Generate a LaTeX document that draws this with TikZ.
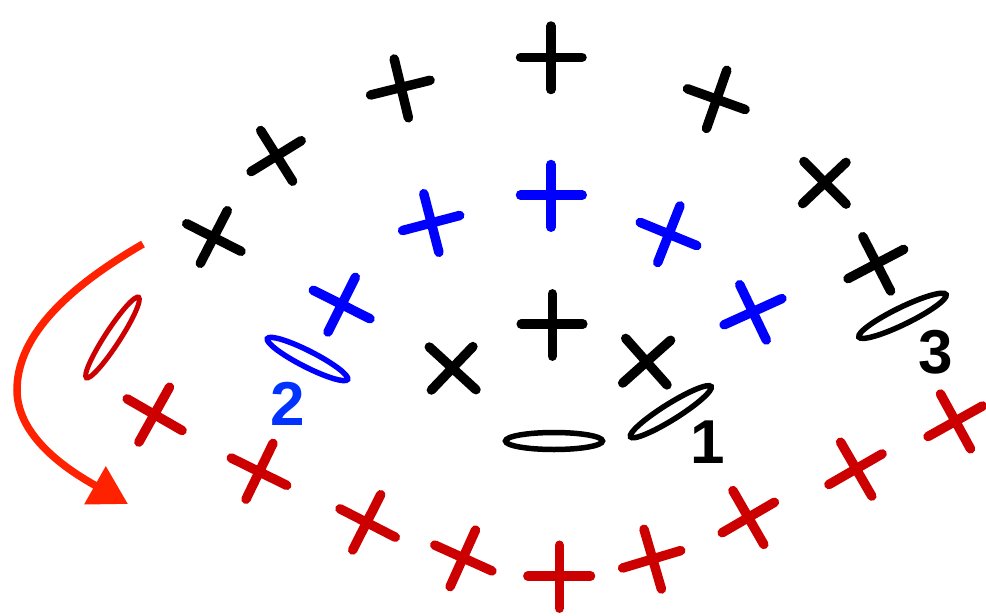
\documentclass[tikz,border=0pt]{standalone}
\usepackage{fontspec}
\setmainfont{Liberation Sans}
\usetikzlibrary{arrows.meta}
\definecolor{scblue}{HTML}{0000FF}
\definecolor{scred}{HTML}{CC0000}
\definecolor{lblue}{HTML}{0033FF}
\definecolor{arrowred}{HTML}{FF2200}
\tikzset{
  stitch/.style={line width=9.5pt, line cap=round},
  chainloop/.style={line width=5.5pt},
  rownum/.style={inner sep=0pt, font=\bfseries\fontsize{62}{62}\selectfont},
}
\begin{document}
\begin{tikzpicture}[x=1pt,y=-1pt]
\clip (0,0) rectangle (986,616);
% outer black row
\draw[stitch,black] (186.7,223.7)--(241,251.3) (227.3,210.7)--(200.3,263.3);
\draw[stitch,black] (260.7,130.5)--(292.6,181.2) (251.1,171.6)--(301.2,140.7);
\draw[stitch,black] (394.2,59)--(408.4,117.8) (370.6,95)--(430.1,80.3);
\draw[stitch,black] (551,26)--(551,89.5) (520.5,57.3)--(582,57.3);
\draw[stitch,black] (726.8,70.3)--(706.5,128.4) (687.5,88.8)--(745.1,109.5);
\draw[stitch,black] (803.9,161.5)--(846.1,204.1) (846,162.4)--(802.6,203.6);
\draw[stitch,black] (862.8,236.7)--(890.6,291) (848,278.6)--(903.7,249.4);
% blue row
\draw[stitch,scblue] (355.3,277.3)--(328,332) (313.3,290.3)--(370,318.7);
\draw[stitch,scblue] (423.8,193.7)--(438.9,252.3) (402.6,230.5)--(459.7,215.5);
\draw[stitch,scblue] (551,164.5)--(551,227.2) (520.5,195)--(582.2,195);
\draw[stitch,scblue] (680,205.9)--(657.7,262.5) (640.2,222.4)--(696.8,245.6);
\draw[stitch,scblue] (739.7,284.7)--(766.3,340) (724.1,324.8)--(781.9,298.6);
% inner black row
\draw[stitch,black] (429.3,347)--(476,389.7) (472.9,346.6)--(431.4,390);
\draw[stitch,black] (552.3,293.8)--(552.3,356.2) (521.2,324)--(582.8,324);
\draw[stitch,black] (625.7,338.4)--(667,384.9) (670.6,340.3)--(622.7,383);
% red row
\draw[stitch,scred] (127.2,398.9)--(182.1,430.5) (169.5,387.2)--(138.9,442.1);
\draw[stitch,scred] (231.3,458)--(286.7,485.3) (273,443.4)--(246,499.2);
\draw[stitch,scred] (340,508.8)--(395.3,537.2) (380.7,494.7)--(352.7,550);
\draw[stitch,scred] (434.8,545.1)--(491.9,570.9) (475.5,530.1)--(450.1,586.6);
\draw[stitch,scred] (559.3,545.2)--(559.3,608.2) (527.8,576)--(590.5,576);
\draw[stitch,scred] (644,529.3)--(661.4,589) (622.6,568)--(680.7,550.6);
\draw[stitch,scred] (732.9,490.6)--(763.8,544.4) (722.2,532.7)--(774.4,502.3);
\draw[stitch,scred] (840.6,442.2)--(871.8,496.1) (828.9,484.5)--(882.1,453.9);
\draw[stitch,scred] (940.5,394)--(970.5,448.8) (928,436.5)--(982.5,406);
% chain loops
\draw[chainloop,black] (554,441) ellipse [x radius=48.5, y radius=8.5];
\draw[chainloop,black,rotate around={32:(670.8,411.7)}] (670.8,411.7) ellipse [x radius=47.5, y radius=8];
\draw[chainloop,black,rotate around={26:(902.5,315.8)}] (902.5,315.8) ellipse [x radius=48.5, y radius=8.5];
\draw[chainloop,scblue,rotate around={-27:(307.5,359)}] (307.5,359) ellipse [x radius=45, y radius=8];
\draw[chainloop,scred,line width=5pt,rotate around={57:(112.5,337.5)}] (112.5,337.5) ellipse [x radius=48, y radius=7.5];
% row numbers
\node[rownum,text=black] (n1) at (708,441.7) {1};
\node[rownum,text=lblue] (n2) at (287.5,404) {2};
\node[rownum,text=black] (n3) at (935.3,352.5) {3};
% direction arrow
\coordinate (arrs) at (143,244);
\coordinate (arre) at (128,504);
\draw[arrowred,line width=7.5pt,-{Triangle[length=38pt,width=42pt]}]
  (arrs) .. controls (60,292) and (17,340) .. (17,390)
  .. controls (17,440) and (75,474) .. (arre);
\end{tikzpicture}
\end{document}
